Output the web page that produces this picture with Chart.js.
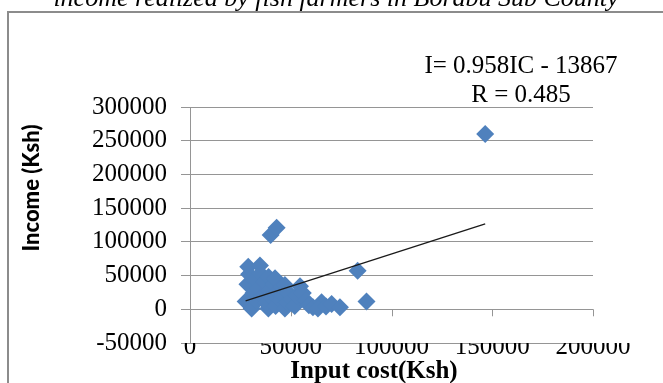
<!DOCTYPE html>
<html lang="en">
<head>
    <meta charset="UTF-8">
    <title>Income vs input cost</title>
    <style>
        body {
            margin: 0;
            background: #fff;
        }

        .chart-box {
            position: relative;
            width: 663px;
            height: 383px;
        }
    </style>
</head>
<body>
    <div class="chart-box">
        <canvas id="costChart" width="663" height="383"></canvas>
    </div>

    <script src="https://cdn.jsdelivr.net/npm/chart.js"></script>
    <script>
        // input cost (Ksh) and income (Ksh) per farmer
        const inputCost = [
            27600, 28500, 29300, 28900, 34700, 30600, 31500, 32500, 33000, 34000,
            35000, 36000, 37000, 38900, 38000, 39000, 39500, 40000, 43000, 40500,
            41500, 42200, 42500, 43500, 44500, 45500, 46000, 47100, 47100, 48000,
            49000, 50500, 52000, 53000, 54600, 56000, 57500, 59000, 61000, 65300,
            63500, 67500, 70300, 74400, 83200, 87600, 146500
        ];
        const income = [
            11500, 37000, 52000, 63000, 65000, 1000, 24000, 44000, 12000, 31000,
            53000, 20000, 40000, 1000, 9000, 48000, 28000, 110000, 121000, 17000,
            37000, 46000, 5000, 26000, 13000, 33000, 21000, 1000, 36000, 10000,
            24000, 15000, 5000, 20000, 34000, 24000, 13000, 6000, 3000, 10500,
            1000, 4000, 8000, 3000, 57000, 11500, 260000
        ];

        // trend line ends: I = 0.958IC - 13867
        const trendCost = [27600, 146500];
        const trendIncome = [12600, 126500];

        const yTicks = [-50000, 0, 50000, 100000, 150000, 200000, 250000, 300000];
        const xTicks = [0, 50000, 100000, 150000, 200000];

        const equationText = 'I= 0.958IC - 13867';
        const rText = 'R = 0.485';
        const titleText = 'income realized by fish farmers in Borabu Sub County';

        const gridGray = '#959595';
        const serif = '"Liberation Serif", "DejaVu Serif", serif';

        const pointsData = inputCost.map((x, i) => ({ x: x, y: income[i] }));
        const trendData = trendCost.map((x, i) => ({ x: x, y: trendIncome[i] }));

        // frame, titles, equation and the tick marks on the zero line
        const decorations = {
            id: 'decorations',
            beforeDatasetsDraw(chart) {
                const ctx = chart.ctx;
                const xs = chart.scales.x;
                const ys = chart.scales.y;
                const zeroY = ys.getPixelForValue(0);
                ctx.save();
                ctx.strokeStyle = gridGray;
                ctx.lineWidth = 1;
                xTicks.forEach(v => {
                    const px = Math.round(xs.getPixelForValue(v)) + 0.5;
                    ctx.beginPath();
                    ctx.moveTo(px, zeroY);
                    ctx.lineTo(px, zeroY + 7);
                    ctx.stroke();
                });
                ctx.restore();
            },
            afterDraw(chart) {
                const ctx = chart.ctx;
                ctx.save();

                // outer frame
                ctx.strokeStyle = '#8c8c8c';
                ctx.lineWidth = 2;
                ctx.beginPath();
                ctx.moveTo(8, 400);
                ctx.lineTo(8, 12);
                ctx.lineTo(700, 12);
                ctx.stroke();

                ctx.fillStyle = '#000';
                ctx.textAlign = 'center';
                ctx.textBaseline = 'alphabetic';

                // cut off title
                ctx.font = 'italic 26px ' + serif;
                ctx.fillText(titleText, 336, 6);

                // regression
                ctx.font = '25px ' + serif;
                ctx.fillText(equationText, 521, 73);
                ctx.fillText(rText, 521, 102);

                // x title
                ctx.font = 'bold 25px ' + serif;
                ctx.fillText('Input cost(Ksh)', 374, 378);

                // y title
                ctx.translate(32, 188);
                ctx.rotate(-Math.PI / 2);
                ctx.textBaseline = 'middle';
                ctx.font = '900 22px Lato, "Open Sans", sans-serif';
                ctx.fillText('Income (Ksh)', 0, 0);

                ctx.restore();
            }
        };

        function renderChart() {
            const ctx = document.getElementById('costChart').getContext('2d');
            new Chart(ctx, {
                type: 'scatter',
                data: {
                    datasets: [{
                        label: 'Trend',
                        data: trendData,
                        showLine: true,
                        borderColor: '#1a1a1a',
                        borderWidth: 1.3,
                        pointRadius: 0,
                        fill: false
                    }, {
                        label: 'Income',
                        data: pointsData,
                        pointStyle: 'rectRot',
                        pointRadius: 9,
                        pointHoverRadius: 9,
                        backgroundColor: '#4F81BD',
                        borderColor: '#4F81BD',
                        borderWidth: 0
                    }]
                },
                options: {
                    responsive: false,
                    animation: false,
                    events: [],
                    layout: {
                        padding: { left: 0, right: 70, top: 107, bottom: 0 }
                    },
                    plugins: {
                        legend: { display: false },
                        tooltip: { enabled: false }
                    },
                    scales: {
                        x: {
                            type: 'linear',
                            min: 0,
                            max: 200000,
                            afterFit: s => { s.height = 40; },
                            afterBuildTicks: s => { s.ticks = xTicks.map(v => ({ value: v })); },
                            grid: { display: false },
                            border: { display: false },
                            ticks: {
                                autoSkip: false,
                                maxRotation: 0,
                                padding: -19,
                                color: '#000',
                                font: { family: serif, size: 25 },
                                callback: v => String(v)
                            }
                        },
                        y: {
                            type: 'linear',
                            min: -50000,
                            max: 300000,
                            afterFit: s => { s.width = 190; },
                            afterBuildTicks: s => { s.ticks = yTicks.map(v => ({ value: v })); },
                            grid: {
                                color: gridGray,
                                lineWidth: 1,
                                drawTicks: true,
                                tickLength: 9
                            },
                            border: { display: true, color: gridGray, width: 1 },
                            ticks: {
                                padding: 14,
                                color: '#000',
                                font: { family: serif, size: 25 },
                                callback: v => String(v)
                            }
                        }
                    }
                },
                plugins: [decorations]
            });
        }

        renderChart();
    </script>
</body>
</html>
